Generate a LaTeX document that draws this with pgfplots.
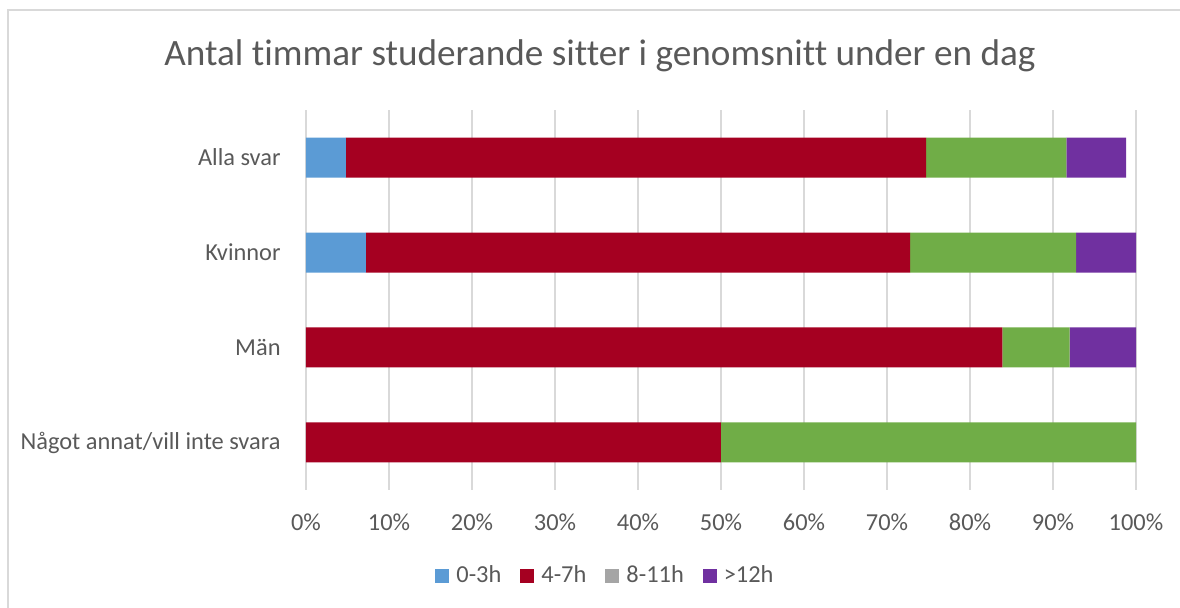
\documentclass[border=0pt]{standalone}
\usepackage{fontspec}
\setmainfont{Carlito}[Ligatures=NoCommon]
\usepackage{pgfplots}
\pgfplotsset{compat=1.18}
\definecolor{txt}{RGB}{89,89,89}
\definecolor{gridc}{RGB}{217,217,217}
\definecolor{c03}{RGB}{91,155,213}
\definecolor{c47}{RGB}{165,0,33}
\definecolor{c811}{RGB}{165,165,165}
\definecolor{cgreen}{RGB}{112,173,71}
\definecolor{c12}{RGB}{112,48,160}

\begin{document}
\begin{tikzpicture}
% 1 px of the reference = 0.5pt, origin at top left
\path[use as bounding box] (0,0) rectangle (590pt,-304pt);
\draw[gridc, line width=1pt] (4pt,-310pt) -- (4pt,-5pt) -- (600pt,-5pt);
\node[txt, font=\fontsize{18.6}{21}\selectfont] at (300pt,-28pt) {Antal timmar studerande sitter i genomsnitt under en dag};
\begin{axis}[
  at={(153pt,-245pt)}, anchor=south west,
  width=415pt, height=190pt, scale only axis,
  xbar stacked, bar width=20pt,
  xmin=0, xmax=100, ymin=-0.5, ymax=3.5,
  xtick={0,10,...,100},
  xticklabels={0\%,10\%,20\%,30\%,40\%,50\%,60\%,70\%,80\%,90\%,100\%},
  ytick={0,1,2,3},
  yticklabels={Något annat/vill inte svara,Män,Kvinnor,Alla svar},
  axis line style={draw=none},
  tick style={draw=none},
  xmajorgrids, major grid style={gridc, line width=0.75pt},
  tick label style={txt, font=\fontsize{12.2}{14}\selectfont},
  xticklabel style={inner sep=0pt, anchor=north, yshift=-11.5pt},
  yticklabel style={inner sep=0pt, anchor=east, xshift=-12.5pt},
  legend columns=4,
  legend style={at={(0.362,-0.226)}, anchor=center, draw=none, fill=none,
    font=\fontsize{12.2}{14}\selectfont, text=txt,
    /tikz/every odd column/.append style={column sep=1.5pt},
    /tikz/every even column/.append style={column sep=7.5pt}},
  legend image code/.code={\fill[#1] (0pt,-3.5pt) rectangle (7pt,3.5pt);},
]
\addplot[fill=c03, draw=none] coordinates {(0,0) (0,1) (7.2,2) (4.8,3)};
\addlegendentry{0-3h}
\addplot[fill=c47, draw=none] coordinates {(50,0) (83.9,1) (65.6,2) (69.9,3)};
\addlegendentry{4-7h}
\addplot[fill=c811, draw=none] coordinates {(0,0) (0,1) (0,2) (0,3)};
\addlegendentry{8-11h}
\addplot[fill=cgreen, draw=none, forget plot] coordinates {(50,0) (8.1,1) (20.0,2) (16.9,3)};
\addplot[fill=c12, draw=none] coordinates {(0,0) (8.0,1) (7.2,2) (7.2,3)};
\addlegendentry{>12h}
\end{axis}
\end{tikzpicture}
\end{document}
